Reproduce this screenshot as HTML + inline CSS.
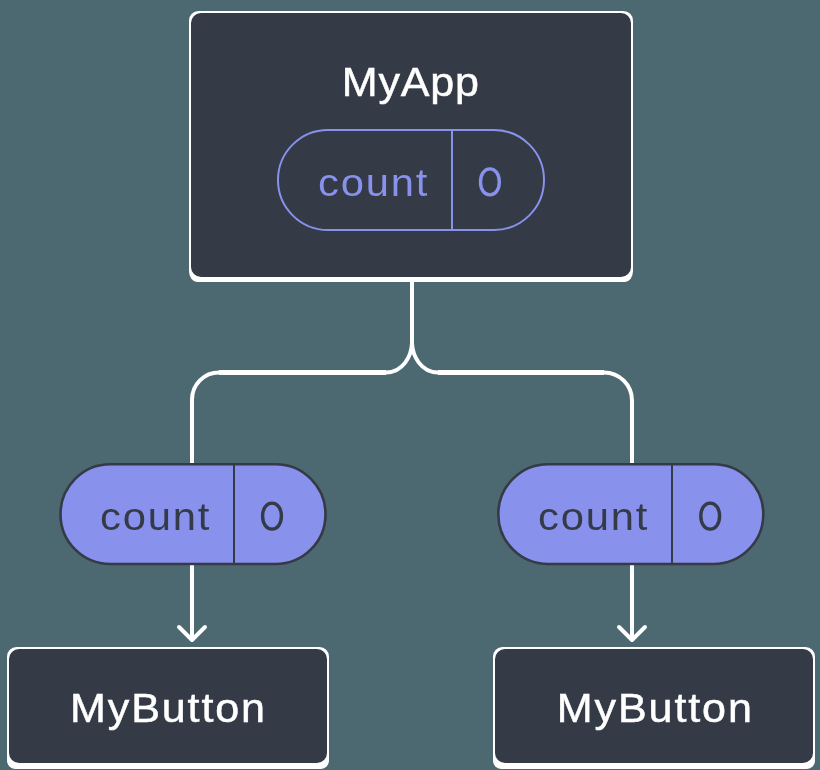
<!DOCTYPE html>
<html><head><meta charset="utf-8">
<style>
html,body{margin:0;padding:0;background:#4C6870;width:820px;height:770px;overflow:hidden}
svg{display:block;will-change:transform}
text{font-family:"Liberation Sans",sans-serif}
</style></head>
<body>
<svg width="820" height="770" viewBox="0 0 820 770">
<rect x="0" y="0" width="820" height="770" fill="#4C6870"/>
<g fill="none" stroke="#FFFFFF" stroke-width="4">
<path d="M412 280 V343 C411.5 356 403 372.5 386 372.5 H219 A27 27 0 0 0 192 399.5 V470"/>
<path d="M412 343 C412.5 356 421 372.5 438 372.5 H604 A28 28 0 0 1 632 400.5 V470"/>
<path d="M192 560 V640"/>
<rect x="219" y="370" width="167" height="5" fill="#FFFFFF" stroke="none"/>
<rect x="438" y="370" width="166" height="5" fill="#FFFFFF" stroke="none"/>
<path d="M632 560 V640"/>
<path d="M179 627 L192 640 L205 627" stroke-linecap="round" stroke-linejoin="round"/>
<path d="M619 627 L632 640 L645 627" stroke-linecap="round" stroke-linejoin="round"/>
</g>
<path d="M198.5 11 H623.5 A9.5 9.5 0 0 1 633 20.5 V271 A8 11 0 0 1 625 282 H197 A8 11 0 0 1 189 271 V20.5 A9.5 9.5 0 0 1 198.5 11 Z" fill="#FFFFFF"/>
<rect x="191" y="13" width="440" height="264" rx="10" fill="#343A46"/>
<text x="410.8" y="96" text-anchor="middle" fill="#FFFFFF" stroke="#FFFFFF" stroke-width="0.5" font-size="41" letter-spacing="0.8" transform="matrix(1.05 0 0 1 -20.540 0)">MyApp</text>
<rect x="278" y="130" width="266" height="100" rx="50" fill="none" stroke="#8891EC" stroke-width="2"/>
<line x1="452" y1="130" x2="452" y2="230" stroke="#8891EC" stroke-width="2"/>
<text x="318" y="196.5" fill="#8891EC" font-size="39" letter-spacing="1.7" transform="matrix(1.07 0 0 1 -22.260 0)">count</text>
<path d="M489.9 168.9 C495.40 168.9 499.29999999999995 174.30 499.29999999999995 181.9 C499.29999999999995 189.50 495.40 194.9 489.9 194.9 C484.40 194.9 480.5 189.50 480.5 181.9 C480.5 174.30 484.40 168.9 489.9 168.9 Z" fill="none" stroke="#8891EC" stroke-width="3.4"/>
<rect x="60.5" y="464.3" width="265" height="99.7" rx="49.85" fill="#8891EC" stroke="#343A46" stroke-width="2.6"/>
<line x1="234" y1="464" x2="234" y2="564" stroke="#343A46" stroke-width="2"/>
<text x="100" y="530" fill="#343A46" font-size="39" letter-spacing="1.7" transform="matrix(1.07 0 0 1 -7.000 0)">count</text>
<path d="M272.0 503.1 C277.50 503.1 281.4 508.50 281.4 516.1 C281.4 523.71 277.50 529.1 272.0 529.1 C266.50 529.1 262.6 523.71 262.6 516.1 C262.6 508.50 266.50 503.1 272.0 503.1 Z" fill="none" stroke="#343A46" stroke-width="3.4"/>
<rect x="498.3" y="464.3" width="265" height="99.7" rx="49.85" fill="#8891EC" stroke="#343A46" stroke-width="2.6"/>
<line x1="672" y1="464" x2="672" y2="564" stroke="#343A46" stroke-width="2"/>
<text x="538" y="530" fill="#343A46" font-size="39" letter-spacing="1.7" transform="matrix(1.07 0 0 1 -37.660 0)">count</text>
<path d="M710.2 503.1 C715.70 503.1 719.6 508.50 719.6 516.1 C719.6 523.71 715.70 529.1 710.2 529.1 C704.70 529.1 700.8000000000001 523.71 700.8000000000001 516.1 C700.8000000000001 508.50 704.70 503.1 710.2 503.1 Z" fill="none" stroke="#343A46" stroke-width="3.4"/>
<path d="M16.5 647 H319.5 A9.5 9.5 0 0 1 329 656.5 V760.5 A8 8.5 0 0 1 321 769 H15 A8 8.5 0 0 1 7 760.5 V656.5 A9.5 9.5 0 0 1 16.5 647 Z" fill="#FFFFFF"/>
<rect x="9" y="649" width="318" height="114" rx="10" fill="#343A46"/>
<text x="168.5" y="722.3" text-anchor="middle" fill="#FFFFFF" stroke="#FFFFFF" stroke-width="0.5" font-size="41" letter-spacing="1.8" transform="matrix(1.05 0 0 1 -8.425 0)">MyButton</text>
<path d="M502.5 647 H805.5 A9.5 9.5 0 0 1 815 656.5 V760.5 A8 8.5 0 0 1 807 769 H501 A8 8.5 0 0 1 493 760.5 V656.5 A9.5 9.5 0 0 1 502.5 647 Z" fill="#FFFFFF"/>
<rect x="495" y="649" width="318" height="114" rx="10" fill="#343A46"/>
<text x="655.3" y="722.3" text-anchor="middle" fill="#FFFFFF" stroke="#FFFFFF" stroke-width="0.5" font-size="41" letter-spacing="1.8" transform="matrix(1.05 0 0 1 -32.765 0)">MyButton</text>
</svg>
</body></html>
